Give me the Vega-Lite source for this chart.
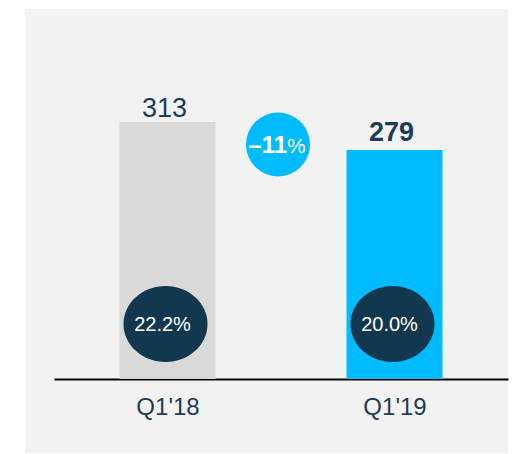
{
  "$schema": "https://vega.github.io/schema/vega-lite/v6.json",
  "width": 483,
  "height": 444,
  "autosize": {"type": "none"},
  "padding": {"left": 25, "top": 9, "right": 5, "bottom": 1},
  "background": "white",
  "config": {"view": {"fill": "#f2f2f2", "stroke": null}, "font": "Liberation Sans"},
  "datasets": {
    "bars": [
      {"period": "Q1'18", "value": 313, "margin": "22.2%"},
      {"period": "Q1'19", "value": 279, "margin": "20.0%"}
    ],
    "change": [
      {"period": "change", "value": 285.6, "change": "–11", "unit": "%"}
    ]
  },
  "encoding": {
    "x": {
      "field": "period",
      "type": "nominal",
      "scale": {"type": "point", "domain": ["Q1'18", "change", "Q1'19"], "range": [29, 483], "padding": 1},
      "axis": {
        "title": null,
        "offset": -74,
        "domainColor": "black",
        "domainWidth": 2,
        "ticks": false,
        "labelFontSize": 24,
        "labelColor": "#1d3c55",
        "labelFont": "Liberation Sans",
        "labelPadding": 16,
        "labelAngle": 0,
        "labelExpr": "datum.value == 'change' ? '' : datum.label"
      }
    }
  },
  "layer": [
    {
      "data": {"name": "bars"},
      "mark": {"type": "bar", "size": 96},
      "encoding": {
        "y": {"field": "value", "type": "quantitative", "scale": {"domain": [-90.1, 450.6], "nice": false, "zero": false}, "axis": null},
        "y2": {"datum": 0},
        "color": {"field": "period", "type": "nominal", "scale": {"domain": ["Q1'18", "Q1'19"], "range": ["#d9d9d9", "#00bcff"]}, "legend": null}
      }
    },
    {
      "data": {"name": "bars"},
      "transform": [{"filter": "datum.period == \"Q1'18\""}],
      "mark": {"type": "text", "baseline": "alphabetic", "dy": -5, "dx": -3, "fontSize": 27, "color": "#1d3c55"},
      "encoding": {
        "y": {"field": "value", "type": "quantitative"},
        "text": {"field": "value", "type": "quantitative"}
      }
    },
    {
      "data": {"name": "bars"},
      "transform": [{"filter": "datum.period == \"Q1'19\""}],
      "mark": {"type": "text", "baseline": "alphabetic", "dy": -9, "dx": -3, "fontSize": 27, "fontWeight": "bold", "color": "#1d3c55"},
      "encoding": {
        "y": {"field": "value", "type": "quantitative"},
        "text": {"field": "value", "type": "quantitative"}
      }
    },
    {
      "data": {"name": "bars"},
      "mark": {"type": "point", "shape": "M-1,0A1,0.905,0,1,1,1,0A1,0.905,0,1,1,-1,0Z", "size": 7056, "filled": true, "opacity": 1, "color": "#12374f", "xOffset": -2},
      "encoding": {
        "y": {"datum": 67}
      }
    },
    {
      "data": {"name": "bars"},
      "mark": {"type": "text", "baseline": "middle", "dx": -5, "dy": 1, "fontSize": 20, "color": "white"},
      "encoding": {
        "y": {"datum": 67},
        "text": {"field": "margin", "type": "nominal"}
      }
    },
    {
      "data": {"name": "change"},
      "mark": {"type": "point", "shape": "circle", "size": 4096, "filled": true, "opacity": 1, "color": "#00bcff", "xOffset": -3},
      "encoding": {
        "y": {"field": "value", "type": "quantitative"}
      }
    },
    {
      "data": {"name": "change"},
      "mark": {"type": "text", "align": "right", "baseline": "alphabetic", "dx": 6, "dy": 9, "fontSize": 24, "fontWeight": "bold", "color": "white"},
      "encoding": {
        "y": {"field": "value", "type": "quantitative"},
        "text": {"field": "change", "type": "nominal"}
      }
    },
    {
      "data": {"name": "change"},
      "mark": {"type": "text", "align": "left", "baseline": "alphabetic", "dx": 6, "dy": 9, "fontSize": 21, "color": "white"},
      "encoding": {
        "y": {"field": "value", "type": "quantitative"},
        "text": {"field": "unit", "type": "nominal"}
      }
    }
  ]
}
